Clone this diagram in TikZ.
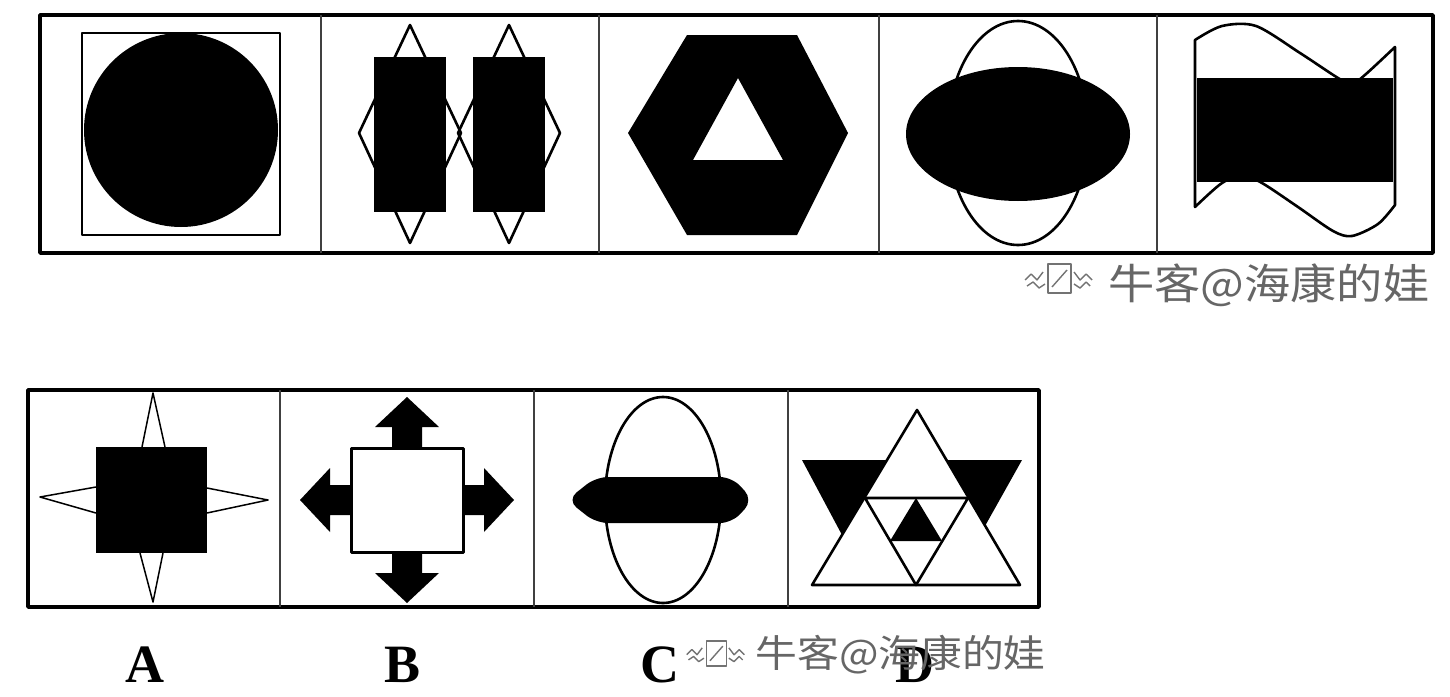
\documentclass[tikz,border=0pt]{standalone}
\usepackage{fontspec}
\setmainfont{Liberation Serif}
\newfontfamily\cjkfont{Noto Sans CJK SC}

\begin{document}
\begin{tikzpicture}[x=1pt, y=-1pt, thick, line join=round]
  \tikzset{
    frameline/.style={line width=3.5pt},
    divider/.style={line width=2.5pt, black!75},
    outline/.style={line width=2.6pt},
    spike/.style={line width=1.5pt},
    optlabel/.style={font=\bfseries\fontsize{54}{56}\selectfont, inner sep=0pt},
    watermark/.style={text=black!60, inner sep=0pt, anchor=west, xscale=1.1},
    wmline/.style={draw=black!55, line width=1.4pt}
  }
  \useasboundingbox (0,0) rectangle (1450,696);

  % 1. Top row: frame and four dividers
  \draw[frameline] (40,15) rectangle (1433,253);
  \foreach \x in {321,599,879,1157} {
    \draw[divider] (\x,15) -- (\x,253);
  }

  % 2. Panel 1: black circle in a square
  \draw[outline] (82,33) rectangle (280,235);
  \fill (181,130) circle (97pt);

  % 3. Panel 2: two bars, each on a diamond
  \foreach \cx in {410,509} {
    \draw[outline] (\cx,25) -- (\cx+51,133) -- (\cx,243) -- (\cx-51,133) -- cycle;
    \fill (\cx-36,57) rectangle (\cx+36,212);
  }

  % 4. Panel 3: hexagon with a triangular hole
  \fill[even odd rule] (687,35) -- (797,35) -- (848,133) -- (797,235) -- (687,235) -- (628,133) -- cycle
    (738,78) -- (783,160) -- (693,160) -- cycle;

  % 5. Panel 4: tall ellipse behind a wide black one
  \draw[outline] (1018,133) ellipse (70pt and 112pt);
  \fill (1018,134) ellipse (112pt and 67pt);

  % 6. Panel 5: wavy band with a black bar
  \draw[outline] (1195,207) -- (1195,40)
    -- plot[smooth] coordinates {(1195,40) (1222,26) (1256,26) (1300,53) (1338,78) (1352,84) (1366,74) (1395,47)}
    -- (1395,205)
    -- plot[smooth] coordinates {(1395,205) (1378,224) (1352,236) (1333,231) (1298,207) (1262,183) (1243,176) (1222,183) (1195,207)}
    -- cycle;
  \fill (1197,78) rectangle (1393,182);

  % 7. Bottom row: frame and three dividers
  \draw[frameline] (28,390) rectangle (1039,607);
  \foreach \x in {280,534,788} {
    \draw[divider] (\x,390) -- (\x,607);
  }

  % 8. Option A: square with four thin spikes
  \draw[spike] (142,447) -- (153,393) -- (165,447);
  \draw[spike] (140,553) -- (153,602) -- (163,553);
  \draw[spike] (96,487) -- (40,497) -- (96,513);
  \draw[spike] (207,488) -- (268,500) -- (207,513);
  \fill (96,447) rectangle (207,553);

  % 9. Option B: white square with four arrows
  \foreach \a/\d in {0/54, 90/50, 180/54, 270/50} {
    \fill[shift={(407,500)}, rotate=\a]
      (\d,-15) -- (\d+23,-15) -- (\d+23,-32) -- (\d+53,0) -- (\d+23,32) -- (\d+23,15) -- (\d,15) -- cycle;
  }
  \draw[line width=3pt, fill=white] (351,448) rectangle (463,552);

  % 10. Option C: tall ellipse crossed by a black bar
  \draw[outline] (663,500) ellipse (58pt and 103pt);
  \fill[rounded corners=12pt] (567,500) -- (596,477) -- (732,477) -- (753,500) -- (732,523) -- (596,523) -- cycle;

  % 11. Option D: nested triangles
  \draw[outline] (812,585) -- (917,410) -- (1020,585) -- cycle;
  \draw[outline] (865,498) -- (968,498) -- (916,585) -- cycle;
  \fill (916,498) -- (942,541) -- (890,541) -- cycle;
  \fill (802,460) -- (887,460) -- (842,535) -- cycle;
  \fill (947,460) -- (1022,460) -- (985,526) -- cycle;

  % 12. Option letters
  \foreach \x/\name in {145/A, 403/B, 660/C, 915/D} {
    \node[optlabel] (lab\name) at (\x,665) {\name};
  }

  % 13. Watermarks with their small logo
  \foreach \wx/\wy/\ws in {1023/278/1, 685/653/0.86} {
    \begin{scope}[shift={(\wx,\wy)}, scale=\ws]
      \draw[wmline] (25,-14) rectangle (48,15);
      \draw[wmline] (29,9) -- (44,-8);
      \draw[wmline] (2,2) -- (8,-4) -- (14,2) -- (20,-6);
      \draw[wmline] (4,8) -- (10,4) -- (16,10) -- (22,6);
      \draw[wmline] (51,-6) -- (57,2) -- (63,-4) -- (69,2);
      \draw[wmline] (51,6) -- (57,10) -- (63,4) -- (67,8);
    \end{scope}
  }
  \node[watermark, font=\cjkfont\fontsize{42}{44}\selectfont] (wmtop) at (1108,285) {牛客@海康的娃};
  \node[watermark, font=\cjkfont\fontsize{38}{40}\selectfont] (wmbot) at (755,655) {牛客@海康的娃};
\end{tikzpicture}
\end{document}
